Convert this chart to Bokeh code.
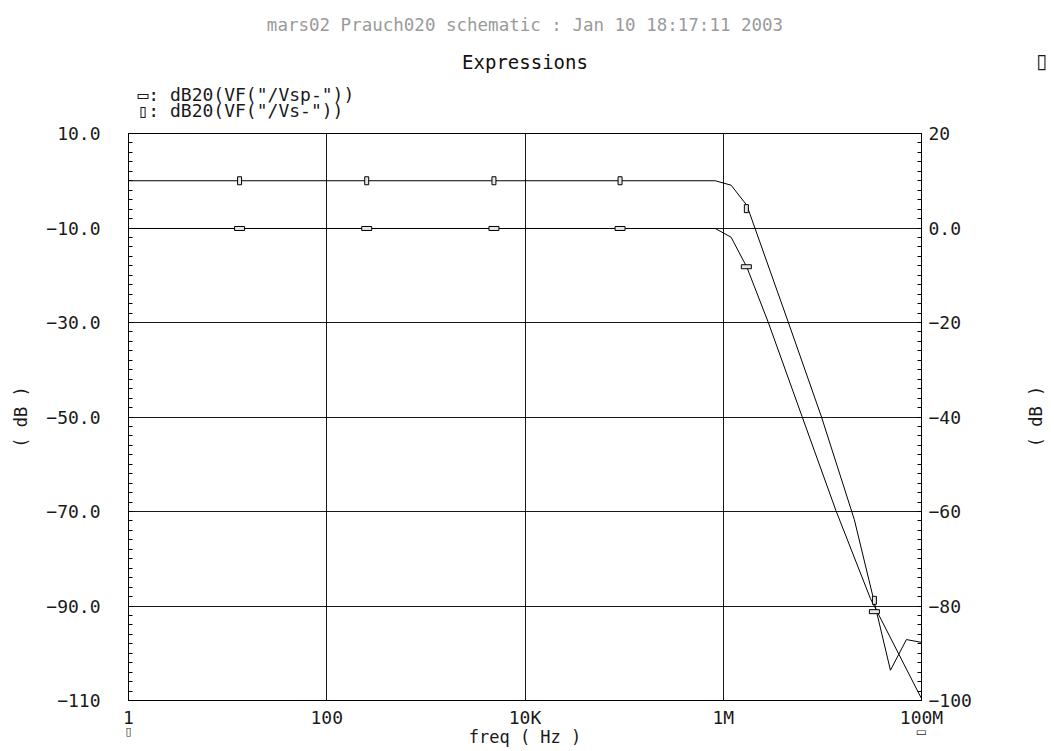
import math
from bokeh.plotting import figure
from bokeh.models import Range1d, LinearAxis, FixedTicker, Label, Title
from bokeh.embed import file_html
from bokeh.resources import INLINE

# ---- data ----
vs_freq = [1, 8.3e5, 1.2e6, 1.73e6, 4.54e6, 9.8e6, 2.1e7, 3.35e7, 4.86e7, 7.05e7, 1e8]
vs_db = [0.0, 0.0, -0.94, -5.2, -30.0, -50.0, -71.7, -89.3, -103.6, -97.1, -97.7]

vsp_freq = [1, 8.3e5, 1.2e6, 1.73e6, 2.85e6, 6.24e6, 1.37e7, 3.05e7, 1e8]
vsp_db = [-0.1, -0.1, -1.95, -8.3, -20.0, -39.9, -59.8, -78.4, -99.6]

marker_freq = [13.2, 253, 4860, 9.1e4, 1.71e6, 3.35e7]
vs_marker_db = [0.0, 0.0, 0.0, 0.0, -5.9, -88.8]
vsp_marker_db = [-0.1, -0.1, -0.1, -0.1, -8.2, -81.2]

x_ticks = [1, 100, 10000, 1000000, 100000000]
x_labels = ["1", "100", "10K", "1M", "100M"]
left_ticks = [10, -10, -30, -50, -70, -90, -110]
left_labels = ["10.0", "\u221210.0", "\u221230.0", "\u221250.0", "\u221270.0", "\u221290.0", "\u2212110"]
right_ticks = [20, 0, -20, -40, -60, -80, -100]
right_labels = ["20", "0.0", "\u221220", "\u221240", "\u221260", "\u221280", "\u2212100"]

legend_text = "\u25ad: dB20(VF(\"/Vsp-\"))\n\u25af: dB20(VF(\"/Vs-\"))"

FONT = "DejaVu Sans Mono"
TXT = "#1a1a1a"

p = figure(x_axis_type="log", x_range=Range1d(1, 1e8), y_range=Range1d(-110, 10),
           frame_width=793, frame_height=567,
           min_border_left=128, min_border_right=125, min_border_top=133, min_border_bottom=50,
           output_backend="svg", toolbar_location=None, title=None)
p.extra_y_ranges = {"right": Range1d(-100, 20)}
p.background_fill_color = "white"
p.border_fill_color = "white"
p.outline_line_color = "black"
p.outline_line_width = 1

# titles / legend (stacked above the frame, nearest first)
t_leg = Title(text=legend_text, align="left", offset=9, vertical_align="top",
              text_font=FONT, text_font_size="18px", text_font_style="normal",
              text_color=TXT, text_line_height=0.8, standoff=20)
t1 = Title(text="Expressions", align="center", vertical_align="bottom",
           text_font=FONT, text_font_size="19px", text_font_style="normal",
           text_color="#111111", standoff=1)
t2 = Title(text="mars02 Prauch020 schematic : Jan 10 18:17:11 2003", align="center",
           vertical_align="top", text_font=FONT, text_font_size="17.5px",
           text_font_style="normal", text_color="#9a9a9a", standoff=24)
p.add_layout(t_leg, "above")
p.add_layout(t1, "above")
p.add_layout(t2, "above")

# x axis
xa = p.xaxis[0]
xa.ticker = FixedTicker(ticks=x_ticks, minor_ticks=[])
xa.major_label_overrides = dict(zip(x_ticks, x_labels))
xa.major_tick_line_color = None
xa.minor_tick_line_color = None
xa.axis_line_color = "black"
xa.major_label_standoff = 0
xa.major_label_text_font = FONT
xa.major_label_text_font_size = "18px"
xa.major_label_text_color = TXT
xa.axis_label = "freq ( Hz )"
xa.axis_label_text_font = FONT
xa.axis_label_text_font_size = "17px"
xa.axis_label_text_font_style = "normal"
xa.axis_label_text_color = TXT
xa.axis_label_standoff = -4

# left axis
ya = p.yaxis[0]
ya.ticker = FixedTicker(ticks=left_ticks, minor_ticks=list(range(-110, 11, 2)))
ya.major_label_overrides = dict(zip(left_ticks, left_labels))
ya.major_tick_in = 4
ya.major_tick_out = 0
ya.minor_tick_in = 4
ya.minor_tick_out = 0
ya.axis_line_color = "black"
ya.major_label_standoff = 28
ya.major_label_text_font = FONT
ya.major_label_text_font_size = "18px"
ya.major_label_text_color = TXT
ya.axis_label = "( dB )"
ya.axis_label_text_font = FONT
ya.axis_label_text_font_size = "17px"
ya.axis_label_text_font_style = "normal"
ya.axis_label_text_color = TXT
ya.axis_label_standoff = 12

# right axis
ra = LinearAxis(y_range_name="right",
                ticker=FixedTicker(ticks=right_ticks, minor_ticks=list(range(-100, 21, 2))))
ra.major_label_overrides = dict(zip(right_ticks, right_labels))
ra.major_tick_in = 4
ra.major_tick_out = 0
ra.minor_tick_in = 4
ra.minor_tick_out = 0
ra.axis_line_color = "black"
ra.major_label_standoff = 7
ra.major_label_text_font = FONT
ra.major_label_text_font_size = "18px"
ra.major_label_text_color = TXT
p.add_layout(ra, "right")

# grid
p.xgrid.grid_line_color = "black"
p.xgrid.grid_line_alpha = 0.9
p.ygrid.grid_line_color = "black"
p.ygrid.grid_line_alpha = 0.9

# curves
p.line(vs_freq, vs_db, line_color="black", line_width=1)
p.line(vsp_freq, vsp_db, line_color="black", line_width=1, y_range_name="right")

# markers
p.rect(marker_freq, vs_marker_db, width=4, height=8, width_units="screen", height_units="screen",
       fill_color="#e6e6e6", line_color="black", line_width=1)
p.rect(marker_freq, vsp_marker_db, width=10, height=4, width_units="screen", height_units="screen",
       fill_color="#e6e6e6", line_color="black", line_width=1, y_range_name="right")

# right-hand axis title (reads bottom to top, like the left one)
p.add_layout(Label(x=1.418e9, y=-49.9, text="( dB )", angle=math.pi / 2, text_font=FONT,
                   text_font_size="17px", text_color=TXT, text_baseline="middle",
                   text_align="center"), "right")

# small indicator glyphs placed in the side panels
p.add_layout(Label(x=1, y=-116.6, text="\u25af", text_font="DejaVu Sans", text_font_size="11px",
                   text_color=TXT, text_baseline="middle", text_align="center"), "below")
p.add_layout(Label(x=1e8, y=-116.6, text="\u25ad", text_font="DejaVu Sans", text_font_size="12px",
                   text_color=TXT, text_baseline="middle", text_align="center"), "below")
p.add_layout(Label(x=1.63e9, y=25.4, text="\u25af", text_font="DejaVu Sans", text_font_size="20px",
                   text_color=TXT, text_baseline="middle", text_align="center"), "right")

open("out.html", "w").write(file_html(p, INLINE))
